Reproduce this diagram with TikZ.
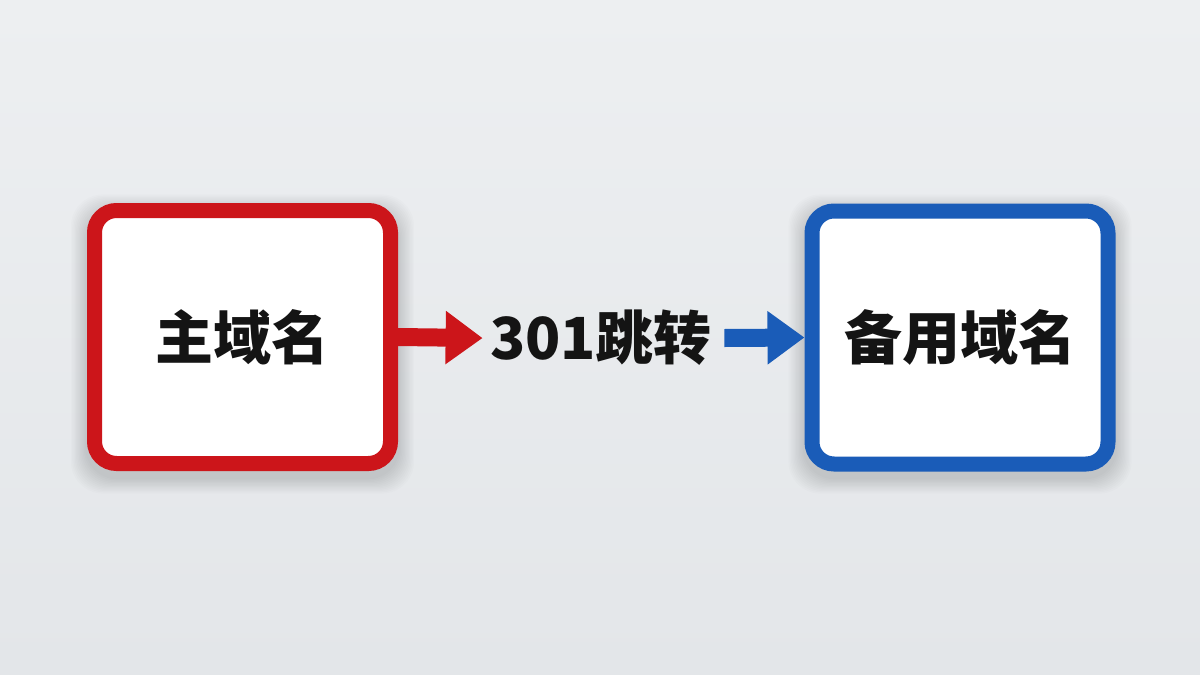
\documentclass[tikz,border=0pt]{standalone}
\usepackage{fontspec}
\newfontfamily\cjk{Noto Sans CJK SC}
\usetikzlibrary{arrows.meta}
\definecolor{bgtop}{HTML}{EDEFF1}
\definecolor{bgbot}{HTML}{E3E6E9}
\definecolor{myred}{HTML}{CC151A}
\definecolor{myblue}{HTML}{1A5CB8}
\begin{document}
\begin{tikzpicture}[x=0.5pt,y=-0.5pt,
  box/.style={draw, line width=7.5pt, rounded corners=11pt, fill=white,
    minimum width=148pt, minimum height=126.5pt, inner sep=0pt},
  txt/.style={font=\cjk\bfseries\fontsize{29}{34}\selectfont, text=black!92},
  conn/.style={line width=9pt, -{Triangle[length=18.5pt,width=25.5pt]}},
  shadowlayer/.style={fill=black, opacity=0.012, rounded corners=16pt},
]
\useasboundingbox (0,0) rectangle (1200,675);
\shade[top color=bgtop, bottom color=bgbot] (0,0) rectangle (1200,675);
\foreach \cx in {242.5,960}{
  \foreach \i in {1,...,12}{
    \fill[shadowlayer] (\cx-156-\i*1.3, 210-\i*1.3) rectangle (\cx+156+\i*1.3, 478+\i*1.3);
  }
}
\node[box, draw=myred, txt] (main) at (242.5,337) {主域名};
\node[txt, inner xsep=6pt, inner ysep=0pt] (jump) at (601,338) {301跳转};
\node[box, draw=myblue, txt] (backup) at (960,337.5) {备用域名};
\draw[conn, myred, shorten >=-2.5pt] (main.east) -- (jump.west);
\draw[conn, myblue, shorten >=0pt] (jump.east) -- (backup.west);
\end{tikzpicture}
\end{document}
